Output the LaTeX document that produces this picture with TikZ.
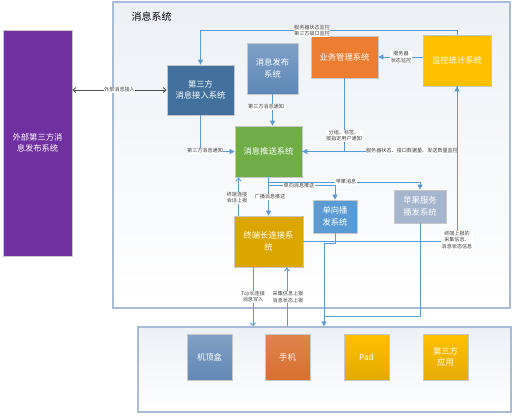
\documentclass[tikz,border=0pt]{standalone}
\usepackage{fontspec}
\setmainfont{Noto Sans CJK SC}
\usetikzlibrary{arrows.meta,calc}
\definecolor{ln}{HTML}{5B9BD5}
\definecolor{cborder}{HTML}{A9BCD6}
\definecolor{cpurple}{HTML}{7030A0}
\definecolor{cjr}{HTML}{41719C}
\definecolor{cfb}{HTML}{5E88B8}
\definecolor{cts}{HTML}{70AD47}
\definecolor{cyw}{HTML}{ED7D31}
\definecolor{cjk}{HTML}{FFC000}
\definecolor{czd}{HTML}{DCA600}
\definecolor{cdx}{HTML}{5B9BD5}
\definecolor{cpg}{HTML}{A5B5CD}
\definecolor{cjd}{HTML}{6288B6}
\definecolor{csj}{HTML}{D86F2E}
\definecolor{cpad}{HTML}{E3AA00}
\definecolor{capp}{HTML}{E6AC08}
\tikzset{
  box/.style={draw=black!22, line width=0.7pt, text=white, align=center, font=\fontsize{8.3}{11.5}\selectfont, inner sep=1pt},
  cont/.style={draw=cborder, line width=1.4pt, left color=cborder!22, right color=white, shading angle=0},
  lbl/.style={fill=white, inner sep=0.4pt, align=center, text=black!75, font=\fontsize{5.1}{6.1}\selectfont},
  arr/.style={draw=ln, line width=0.9pt, -{Triangle[length=5pt,width=5pt]}},
  oarr/.style={draw=ln, line width=0.9pt, -{Straight Barb[length=3pt,width=5pt]}},
  plain/.style={draw=ln, line width=0.9pt},
}
\begin{document}
\begin{tikzpicture}[x=1pt,y=-1pt]
\useasboundingbox (0,0) rectangle (514,416);
% containers
\node[cont, minimum width=397, minimum height=306] (sys) at (311.5,155) {};
\node[anchor=west, font=\fontsize{10}{12}\selectfont] (title) at (128,17) {消息系统};
\node[cont, minimum width=373, minimum height=85] (dev) at (324.5,369.5) {};
% boxes
\node[box, fill=cpurple, minimum width=69, minimum height=226] (ext) at (37.5,143) {外部第三方消\\息发布系统};
\node[box, fill=cjr, minimum width=67, minimum height=50] (jr) at (200.5,90) {第三方\\消息接入系统};
\node[box, top color=cfb!80!white, bottom color=cfb, minimum width=51, minimum height=51] (fb) at (272.5,68.5) {消息发布\\系统};
\node[box, fill=cts, minimum width=67, minimum height=51] (ts) at (268.5,151.5) {消息推送系统};
\node[box, fill=cyw, minimum width=67, minimum height=42] (yw) at (344.5,57) {业务管理系统};
\node[box, fill=cjk, minimum width=68, minimum height=51] (jk) at (457,60.5) {监控统计系统};
\node[box, fill=czd, minimum width=69, minimum height=51] (zd) at (268.5,241.5) {终端长连接系\\统};
\node[box, fill=cdx, minimum width=44, minimum height=33] (dx) at (335,216.5) {单向播\\发系统};
\node[box, fill=cpg, minimum width=52, minimum height=33] (pg) at (420,206.5) {苹果服务\\播发系统};
\node[box, top color=cjd!80!white, bottom color=cjd, minimum width=45, minimum height=46] (jd) at (209.5,357) {机顶盒};
\node[box, top color=csj!85!white, bottom color=csj, minimum width=45, minimum height=46] (sj) at (287.5,357) {手机};
\node[box, top color=cjk, bottom color=cpad, minimum width=45, minimum height=46] (pad) at (366.5,357) {Pad};
\node[box, top color=cjk, bottom color=capp, minimum width=45, minimum height=46] (app) at (445.5,357) {第三方\\应用};
% external access
\draw[black!70, line width=0.8pt, {Straight Barb[length=3pt,width=5pt]}-{Straight Barb[length=3pt,width=5pt]}] (ext.east |- jr.west) -- (jr.west)
  node[lbl, midway] (l1) {外部消息接入};
% monitoring -> access (top)
\draw[arr] (jk.north) -- ++(0,-4) -| (jr.north);
\node[lbl] (l2) at (312,31) {服务器状态监控\\第三方接口监控};
% monitoring -> business
\draw[arr] (jk.west |- yw.east) -- (yw.east);
\node[lbl] (l3) at (401,57) {服务器\\状态监控};
% publish -> push
\draw[arr] (fb.south) -- (fb.south |- ts.north);
\node[lbl] (l4) at (266,107) {第三方消息通知};
% access -> push
\draw[arr] (jr.south) |- (ts.west);
\node[lbl] (l5) at (205,151) {第三方消息通知};
% business -> push
\draw[arr] (yw.south) |- (ts.east);
\node[lbl] (l6) at (344,136) {分组、标签、\\按指定用户通知};
% push -> monitoring
\draw[arr] (ts.east) -| (jk.south);
\node[lbl] (l7) at (412,151) {服务器状态、接口数据量、发送数量监控};
% terminal -> monitoring
\draw[plain] (zd.east) -| (jk.south);
\node[lbl] (l8) at (457,240) {终端上报的\\采集信息、\\消息状态信息};
% push -> terminal (broadcast)
\draw[arr] (ts.south) -- (zd.north);
\node[lbl] (l9) at (270,197) {广播消息推送};
% push -> apple
\draw[arr] ([yshift=-5pt]ts.south) -| (pg.north);
\node[lbl] (l10) at (346,182) {苹果消息};
% push -> unidirectional
\draw[arr] ([yshift=-8pt]ts.south) -| (dx.north);
\node[lbl] (l11) at (299,186) {单向消息推送};
% terminal -> push (session report)
\draw[oarr] ([xshift=-30pt]zd.north) -- ([xshift=-30pt]zd.north |- ts.south);
\node[lbl] (l12) at (237,198) {终端连接\\会话上报};
% terminal <-> devices
\draw[oarr] ([xshift=-15.5pt]zd.south) -- ([xshift=-15.5pt]zd.south |- dev.north);
\node[lbl] (l13) at (253,297) {Tcp长连接\\消息写入};
\draw[oarr] ([xshift=18.5pt]zd.south |- dev.north) -- ([xshift=18.5pt]zd.south);
\node[lbl] (l14) at (288,297) {采集信息上报\\消息状态上报};
% unidirectional / apple -> devices
\draw[arr] (dx.south) -- ++(0,10) -- ++(-11,0) -- ([xshift=-11pt]dx.south |- dev.north);
\draw[plain] (pg.south) |- ([xshift=-11pt,yshift=-83pt]dx.south);
\end{tikzpicture}
\end{document}
